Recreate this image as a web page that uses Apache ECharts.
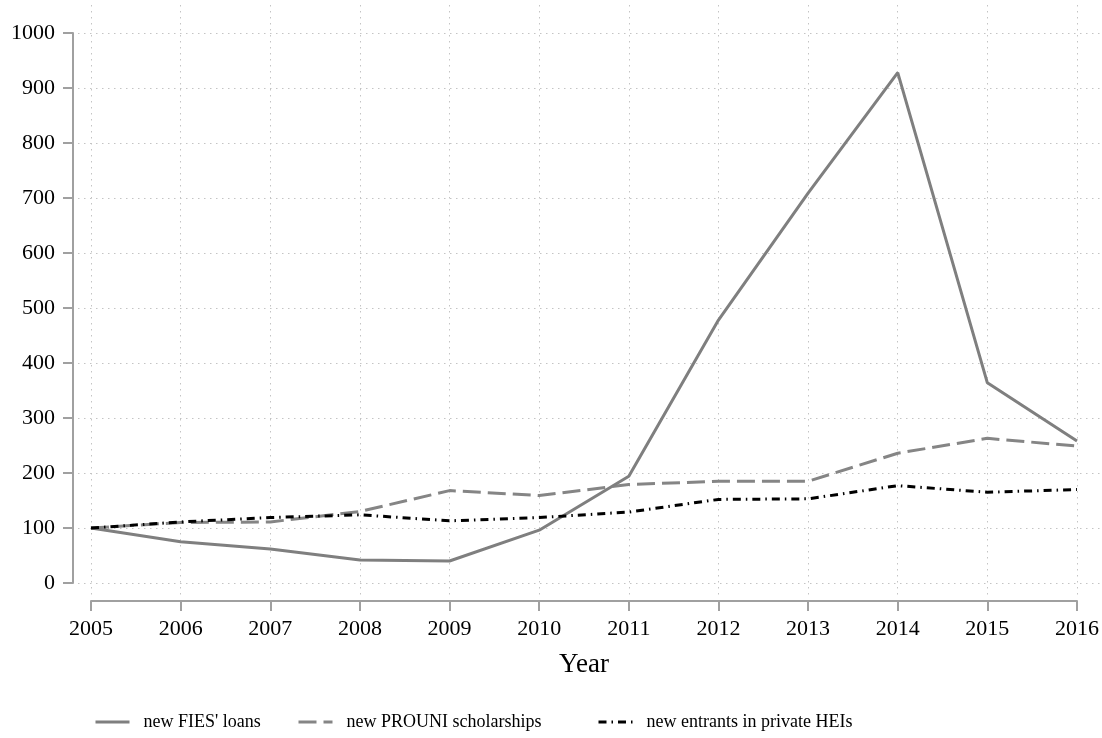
<!DOCTYPE html>
<html>
<head>
<meta charset="utf-8">
<script src="https://cdn.jsdelivr.net/npm/echarts@6/dist/echarts.min.js"></script>
<style>
  html, body { margin: 0; padding: 0; background: #fff; }
  #chart { width: 1102px; height: 738px; }
</style>
</head>
<body>
<div id="chart"></div>
<script>
  // data (index, 2005 = 100)
  var years = [2005, 2006, 2007, 2008, 2009, 2010, 2011, 2012, 2013, 2014, 2015, 2016];
  var fies = [100, 75, 62, 42, 40, 96, 194, 478, 709, 928, 364, 258];
  var prouni = [100, 110, 111, 130, 168, 159, 179, 185, 185, 236, 263, 249];
  var entrants = [100, 111, 119, 124, 113, 119, 129, 152, 153, 177, 165, 170];
  var yTicks = [0, 100, 200, 300, 400, 500, 600, 700, 800, 900, 1000];
  var names = ["new FIES' loans", 'new PROUNI scholarships', 'new entrants in private HEIs'];

  var font = 'Liberation Serif';

  // data area (axes) and the wider plot region (grid lines)
  var dataBox = { left: 91, right: 1077, top: 33, bottom: 583 };
  var plotBox = { left: 78, right: 1100, top: 5, bottom: 595 };
  var xMin = years[0], xMax = years[years.length - 1];
  var yMin = 0, yMax = 1000;
  var pxPerX = (dataBox.right - dataBox.left) / (xMax - xMin);
  var pxPerY = (dataBox.bottom - dataBox.top) / (yMax - yMin);

  function pairs(vals) {
    return years.map(function (y, i) { return [y, vals[i]]; });
  }
  function plain(v) { return String(v); }

  var legendLefts = [89, 292, 592];
  function legendFor(i) {
    return {
      left: legendLefts[i],
      bottom: 2,
      itemWidth: 34,
      itemHeight: 12,
      data: [names[i]],
      itemStyle: { opacity: 0 },
      lineStyle: { width: 3 },
      textStyle: { fontFamily: font, fontSize: 18, color: '#000', padding: [0, 0, 0, 9] }
    };
  }

  var chart = echarts.init(document.getElementById('chart'));
  chart.setOption({
    animation: false,
    backgroundColor: '#fff',
    grid: [
      {
        left: dataBox.left, width: dataBox.right - dataBox.left,
        top: dataBox.top, height: dataBox.bottom - dataBox.top,
        containLabel: false
      },
      {
        left: plotBox.left, width: plotBox.right - plotBox.left,
        top: plotBox.top, height: plotBox.bottom - plotBox.top,
        containLabel: false
      }
    ],
    legend: [legendFor(0), legendFor(1), legendFor(2)],
    xAxis: [
      {
        gridIndex: 0,
        type: 'value',
        min: xMin, max: xMax, interval: 1,
        offset: 18,
        name: 'Year',
        nameLocation: 'middle',
        nameGap: 50,
        nameTextStyle: { fontFamily: font, fontSize: 27, color: '#000' },
        axisLine: { show: true, onZero: false, lineStyle: { color: '#a0a0a0', width: 2 } },
        axisTick: { show: true, length: 10, lineStyle: { color: '#a0a0a0', width: 2 } },
        axisLabel: { fontFamily: font, fontSize: 22, color: '#000', margin: 17, formatter: plain },
        splitLine: { show: false }
      },
      {
        gridIndex: 1,
        type: 'value',
        min: xMin - (dataBox.left - plotBox.left) / pxPerX,
        max: xMax + (plotBox.right - dataBox.right) / pxPerX,
        axisLine: { show: false },
        axisTick: { show: false, customValues: years },
        axisLabel: { show: false, customValues: years },
        splitLine: { show: true, lineStyle: { color: '#c4c4c4', width: 1, type: [1.5, 4.5] } }
      }
    ],
    yAxis: [
      {
        gridIndex: 0,
        type: 'value',
        min: yMin, max: yMax, interval: 100,
        offset: 18,
        axisLine: { show: true, lineStyle: { color: '#a0a0a0', width: 2 } },
        axisTick: { show: true, length: 10, lineStyle: { color: '#a0a0a0', width: 2 } },
        axisLabel: { fontFamily: font, fontSize: 22, color: '#000', margin: 18, formatter: plain },
        splitLine: { show: false }
      },
      {
        gridIndex: 1,
        type: 'value',
        min: yMin - (plotBox.bottom - dataBox.bottom) / pxPerY,
        max: yMax + (dataBox.top - plotBox.top) / pxPerY,
        axisLine: { show: false },
        axisTick: { show: false, customValues: yTicks },
        axisLabel: { show: false, customValues: yTicks },
        splitLine: { show: true, lineStyle: { color: '#c4c4c4', width: 1, type: [1.5, 4.5] } }
      }
    ],
    series: [
      {
        name: names[0], type: 'line', xAxisIndex: 0, yAxisIndex: 0,
        data: pairs(fies), symbol: 'none', z: 4,
        lineStyle: { color: '#7f7f7f', width: 3, type: 'solid' },
        itemStyle: { color: '#7f7f7f' }
      },
      {
        name: names[1], type: 'line', xAxisIndex: 0, yAxisIndex: 0,
        data: pairs(prouni), symbol: 'none', z: 3,
        lineStyle: { color: '#858585', width: 3, type: [18, 7] },
        itemStyle: { color: '#858585' }
      },
      {
        name: names[2], type: 'line', xAxisIndex: 0, yAxisIndex: 0,
        data: pairs(entrants), symbol: 'none', z: 5,
        lineStyle: { color: '#000', width: 3, type: [8, 5, 1.5, 5] },
        itemStyle: { color: '#000' }
      }
    ]
  });
</script>
</body>
</html>
